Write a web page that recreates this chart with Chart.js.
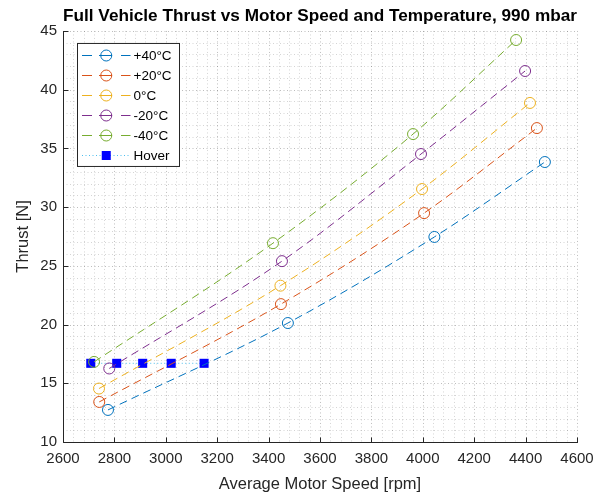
<!DOCTYPE html>
<html>
<head>
<meta charset="utf-8">
<script src="https://cdn.jsdelivr.net/npm/chart.js@4.4.1/dist/chart.umd.min.js"></script>
<style>
  html, body { margin: 0; padding: 0; background: #ffffff; }
  #wrap { width: 613px; height: 496px; }
</style>
</head>
<body>
<div id="wrap"><canvas id="c" width="613" height="496"></canvas></div>
<script>
// ---------------- data ----------------
const seriesLabels = ['+40°C', '+20°C', '0°C', '-20°C', '-40°C'];
const speedPlus40 = [2775, 3475, 4045, 4475];
const thrustPlus40 = [12.73, 20.13, 27.46, 33.84];
const speedPlus20 = [2741, 3448, 4005, 4444];
const thrustPlus20 = [13.41, 21.74, 29.49, 36.73];
const speedZero = [2740, 3446, 3997, 4417];
const thrustZero = [14.55, 23.31, 31.54, 38.87];
const speedMinus20 = [2780, 3452, 3993, 4398];
const thrustMinus20 = [16.26, 25.40, 34.52, 41.59];
const speedMinus40 = [2721, 3417, 3962, 4363];
const thrustMinus40 = [16.82, 26.93, 36.22, 44.23];
const hoverLabel = 'Hover';
const hoverSpeed = [2708, 2809, 2910, 3021, 3149];
const hoverThrust = [16.70, 16.70, 16.70, 16.70, 16.70];

const xMin = 2600, xMax = 4600, xMajor = 200, xMinor = 40;
const yMin = 10, yMax = 45, yMajor = 5, yMinor = 1;

const chartTitle = 'Full Vehicle Thrust vs Motor Speed and Temperature, 990 mbar';
const xTitle = 'Average Motor Speed [rpm]';
const yTitle = 'Thrust [N]';

// ---------------- styles ----------------
const colors = ['#0072BD', '#D95319', '#EDB120', '#7E2F8E', '#77AC30'];
const hoverLineColor = '#4DBEEE';
const hoverMarkColor = '#0000FF';
const axisColor = '#262626';
const FONT = "'Liberation Sans', Arial, Helvetica, sans-serif";
Chart.defaults.font.family = FONT;

function pts(xs, ys) { return xs.map((x, i) => ({ x: x, y: ys[i] })); }

const speeds = [speedPlus40, speedPlus20, speedZero, speedMinus20, speedMinus40];
const thrusts = [thrustPlus40, thrustPlus20, thrustZero, thrustMinus20, thrustMinus40];

const datasets = seriesLabels.map((lab, i) => ({
  label: lab,
  data: pts(speeds[i], thrusts[i]),
  showLine: true,
  borderColor: colors[i],
  backgroundColor: 'rgba(0,0,0,0)',
  borderWidth: 1,
  borderDash: [8, 5],
  cubicInterpolationMode: 'monotone',
  pointStyle: 'circle',
  pointRadius: 5.5,
  pointHoverRadius: 5.5,
  pointBorderWidth: 1,
  pointBorderColor: colors[i],
  pointBackgroundColor: 'rgba(0,0,0,0)'
}));
datasets.push({
  label: hoverLabel,
  data: pts(hoverSpeed, hoverThrust),
  showLine: true,
  borderColor: hoverLineColor,
  backgroundColor: hoverMarkColor,
  borderWidth: 1,
  borderDash: [1, 2.5],
  tension: 0,
  pointStyle: 'rect',
  pointRadius: 6.4,
  pointHoverRadius: 6.4,
  pointBorderWidth: 0,
  pointBorderColor: hoverMarkColor,
  pointBackgroundColor: hoverMarkColor
});

// grid, axis lines and inward ticks (MATLAB style)
const matlabAxes = {
  id: 'matlabAxes',
  beforeDatasetsDraw(chart) {
    const { ctx, chartArea: a, scales } = chart;
    const xs = scales.x, ys = scales.y;
    ctx.save();
    ctx.lineWidth = 1;
    ctx.setLineDash([1, 2.5]);
    xs.ticks.forEach(t => {
      const px = Math.round(xs.getPixelForValue(t.value)) + 0.5;
      const major = Math.abs(t.value % xMajor) < 1e-6;
      ctx.strokeStyle = major ? 'rgba(0,0,0,0.26)' : 'rgba(0,0,0,0.17)';
      ctx.beginPath(); ctx.moveTo(px, a.top); ctx.lineTo(px, a.bottom); ctx.stroke();
    });
    ys.ticks.forEach(t => {
      const py = Math.round(ys.getPixelForValue(t.value)) + 0.5;
      const major = Math.abs(t.value % yMajor) < 1e-6;
      ctx.strokeStyle = major ? 'rgba(0,0,0,0.26)' : 'rgba(0,0,0,0.17)';
      ctx.beginPath(); ctx.moveTo(a.left, py); ctx.lineTo(a.right, py); ctx.stroke();
    });
    ctx.restore();
  },
  afterDatasetsDraw(chart) {
    const { ctx, chartArea: a, scales } = chart;
    const xs = scales.x, ys = scales.y;
    const L = Math.round(a.left) + 0.5, B = Math.round(a.bottom) + 0.5;
    ctx.save();
    ctx.setLineDash([]);
    ctx.strokeStyle = axisColor;
    ctx.lineWidth = 1;
    ctx.beginPath();
    ctx.moveTo(L, Math.round(a.top)); ctx.lineTo(L, B); ctx.lineTo(Math.round(a.right) + 1, B);
    ctx.stroke();
    const tl = 5;
    xs.ticks.forEach(t => {
      if (Math.abs(t.value % xMajor) > 1e-6) return;
      const px = Math.round(xs.getPixelForValue(t.value)) + 0.5;
      ctx.beginPath(); ctx.moveTo(px, B); ctx.lineTo(px, B - tl); ctx.stroke();
    });
    ys.ticks.forEach(t => {
      if (Math.abs(t.value % yMajor) > 1e-6) return;
      const py = Math.round(ys.getPixelForValue(t.value)) + 0.5;
      ctx.beginPath(); ctx.moveTo(L, py); ctx.lineTo(L + tl, py); ctx.stroke();
    });
    ctx.restore();
  }
};

// legend drawn inside the axes, MATLAB style
const insideLegend = {
  id: 'insideLegend',
  afterDraw(chart) {
    const { ctx, chartArea: a } = chart;
    const ds = chart.data.datasets;
    const bx = a.left + 14.5, by = a.top + 12.5, bw = 102, bh = 123;
    const rowH = 20;
    ctx.save();
    ctx.fillStyle = '#ffffff';
    ctx.fillRect(bx, by, bw, bh);
    ctx.strokeStyle = '#262626';
    ctx.lineWidth = 1;
    ctx.setLineDash([]);
    ctx.strokeRect(bx, by, bw, bh);
    ctx.font = "13.5px " + FONT;
    ctx.textBaseline = 'middle';
    ctx.textAlign = 'left';
    ds.forEach((d, i) => {
      const cy = Math.round(by + 12 + i * rowH) + 0.5;
      const x0 = bx + 4.5, x1 = bx + 53, xm = (x0 + x1) / 2;
      ctx.strokeStyle = d.borderColor;
      ctx.lineWidth = 1;
      if (d.pointStyle === 'rect') {
        ctx.setLineDash([1, 2.5]);
      } else {
        ctx.setLineDash([10, 7, 13, 9, 10]);
      }
      ctx.beginPath(); ctx.moveTo(x0, cy); ctx.lineTo(x1, cy); ctx.stroke();
      ctx.setLineDash([]);
      if (d.pointStyle === 'rect') {
        ctx.fillStyle = d.pointBackgroundColor;
        ctx.fillRect(xm - 4.5, cy - 4.5, 9, 9);
      } else {
        ctx.strokeStyle = d.pointBorderColor;
        ctx.beginPath(); ctx.arc(xm, cy, 5.5, 0, Math.PI * 2); ctx.stroke();
      }
      ctx.fillStyle = '#000000';
      ctx.fillText(d.label, bx + 56, cy + 0.5);
    });
    ctx.restore();
  }
};

new Chart(document.getElementById('c'), {
  type: 'scatter',
  data: { datasets: datasets },
  options: {
    responsive: false,
    animation: false,
    events: [],
    layout: { padding: { top: 0, left: 0, right: 36, bottom: 0 } },
    plugins: {
      legend: { display: false },
      tooltip: { enabled: false },
      title: {
        display: true,
        fullSize: false,
        text: chartTitle,
        color: '#000000',
        font: { size: 17.3, weight: 'bold', lineHeight: 1.2 },
        padding: { top: 6, bottom: 4.2 }
      }
    },
    scales: {
      x: {
        type: 'linear',
        min: xMin, max: xMax,
        grid: { display: false, drawTicks: false },
        border: { display: false },
        ticks: {
          stepSize: xMinor,
          autoSkip: false,
          maxRotation: 0,
          padding: 8,
          color: axisColor,
          font: { size: 15 },
          callback: v => (Math.abs(v % xMajor) < 1e-6 ? String(v) : '')
        },
        title: {
          display: true, text: xTitle, color: axisColor,
          font: { size: 16.5, lineHeight: 1.2 },
          padding: { top: 0, bottom: 2.1 }
        },
        afterFit: s => { s.height = 54; }
      },
      y: {
        type: 'linear',
        min: yMin, max: yMax,
        grid: { display: false, drawTicks: false },
        border: { display: false },
        ticks: {
          stepSize: yMinor,
          autoSkip: false,
          padding: 6,
          color: axisColor,
          font: { size: 15 },
          callback: v => (Math.abs(v % yMajor) < 1e-6 ? String(v) : '')
        },
        title: {
          display: true, text: yTitle, color: axisColor,
          font: { size: 16.5, lineHeight: 1.2 },
          padding: { top: 14, bottom: 0 }
        },
        afterFit: s => { s.width = 63; }
      }
    }
  },
  plugins: [matlabAxes, insideLegend]
});
</script>
</body>
</html>
